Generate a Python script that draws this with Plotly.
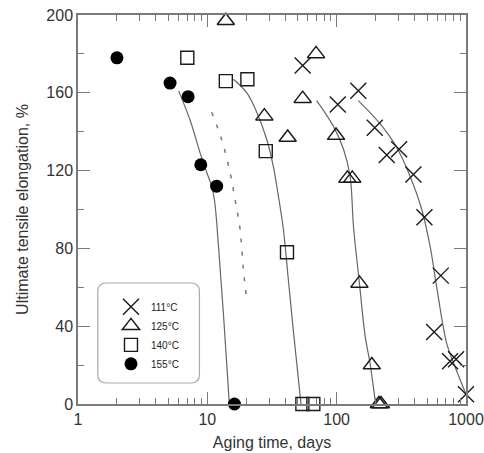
import plotly.graph_objects as go

# ---- measured data ----
t111 = [54.6, 102, 147, 197, 244, 304, 392, 477, 567, 638, 753, 838, 1000]
e111 = [174, 154, 161, 142, 128, 131, 118, 96, 37, 66, 22, 23, 5]

t125 = [13.9, 27.6, 41.8, 54.6, 69.3, 98.9, 121, 132, 150, 187, 212, 220]
e125 = [197, 148, 137, 157, 180, 138, 116, 116, 62, 20, 0, 0]

t140 = [7.0, 13.9, 20.4, 28.3, 41.3, 54.3, 66]
e140 = [178, 166, 167, 130, 78, 0, 0]

t155 = [2.0, 5.15, 7.1, 8.9, 11.8, 16.2]
e155 = [178, 165, 158, 123, 112, 0]

# fitted curves
ct111 = [147, 217, 291, 370, 455, 528, 594, 710, 824, 1000]
ce111 = [156, 144, 132, 117, 100, 81, 60, 31, 19, 5]
ct125 = [70, 94, 113, 127, 135, 150, 166, 181, 200]
ce125 = [156, 143, 131, 117, 91, 62, 35, 21, 0]
ct140 = [15.9, 20.2, 24.1, 28.8, 32.4, 35.4, 38.7, 42.3, 46.2, 53.0]
ce140 = [167, 160, 150, 136, 122, 107, 90, 64, 38, 0]
ct155 = [6.0, 7.35, 8.8, 9.9, 10.8, 11.4, 12.2, 13.3, 14.8]
ce155 = [161, 146, 129, 119, 112, 104, 81, 47, 0]
# dotted curve
dt = [10.8, 12.9, 15.0, 16.4, 17.9, 19.0, 20.2]
de = [150, 136, 119, 105, 90, 69, 53]

labels = ["111°C", "125°C", "140°C", "155°C"]
x_major = [1, 10, 100, 1000]
x_minor = [m * d for d in (1, 10, 100) for m in range(2, 10)]

FONT = "Liberation Sans, Arial, sans-serif"
MK = "#1a1a1a"
CURVE = "#666666"
AX = "#7a7a7a"

fig = go.Figure()

for ct, ce in [(ct111, ce111), (ct125, ce125), (ct140, ce140), (ct155, ce155)]:
    fig.add_trace(go.Scatter(x=ct, y=ce, mode="lines", line=dict(color=CURVE, width=1.2, shape="spline"),
                             showlegend=False, hoverinfo="skip", cliponaxis=False))
fig.add_trace(go.Scatter(x=dt, y=de, mode="lines",
                         line=dict(color="#777777", width=1.5, dash="4px,9px", shape="spline"),
                         showlegend=False, hoverinfo="skip"))

fig.add_trace(go.Scatter(x=t111, y=e111, mode="markers", name=labels[0], cliponaxis=False,
                         marker=dict(symbol="x-thin-open", size=16, line=dict(color=MK, width=1.4), color=MK)))
fig.add_trace(go.Scatter(x=t125, y=e125, mode="markers", name=labels[1], cliponaxis=False,
                         marker=dict(symbol="triangle-up-open", size=15, line=dict(color=MK, width=1.5), color=MK)))
fig.add_trace(go.Scatter(x=t140, y=e140, mode="markers", name=labels[2], cliponaxis=False,
                         marker=dict(symbol="square-open", size=13, line=dict(color=MK, width=1.4), color=MK)))
fig.add_trace(go.Scatter(x=t155, y=e155, mode="markers", name=labels[3], cliponaxis=False,
                         marker=dict(symbol="circle", size=13, color="#000000", line=dict(width=0))))

# rounded legend box
x0, x1, y0, y1 = 0.051, 0.313, 0.054, 0.311
rx, ry = 0.022, 0.022
path = (f"M {x0+rx},{y0} L {x1-rx},{y0} Q {x1},{y0} {x1},{y0+ry} L {x1},{y1-ry} Q {x1},{y1} {x1-rx},{y1} "
        f"L {x0+rx},{y1} Q {x0},{y1} {x0},{y1-ry} L {x0},{y0+ry} Q {x0},{y0} {x0+rx},{y0} Z")
fig.add_shape(type="path", path=path, xref="paper", yref="paper",
              line=dict(color="#aaaaaa", width=1.2), fillcolor="rgba(255,255,255,0)", layer="above")

axis_common = dict(showline=True, linecolor=AX, linewidth=1.5, mirror="ticks", automargin=False,
                   ticks="inside", tickcolor=AX, tickwidth=1.3, showgrid=False, zeroline=False,
                   ticklabeloverflow="allow",
                   tickfont=dict(family=FONT, size=16, color="#333333"))

fig.update_xaxes(type="log", range=[0, 3], tickmode="array", tickvals=x_major,
                 ticktext=[str(v) for v in x_major], ticklen=12,
                 minor=dict(ticks="inside", ticklen=6, tickmode="array", tickvals=x_minor,
                            tickcolor=AX, tickwidth=1.3, showgrid=False),
                 title=dict(text="Aging time, days", font=dict(family=FONT, size=16, color="#333333"), standoff=10),
                 **axis_common)
fig.update_yaxes(range=[0, 200], tickmode="linear", tick0=0, dtick=40, ticklen=12,
                 minor=dict(ticks="inside", ticklen=6, tickmode="linear", tick0=0, dtick=20,
                            tickcolor=AX, tickwidth=1.3, showgrid=False),
                 title=dict(text="Ultimate tensile elongation, %", font=dict(family=FONT, size=16, color="#333333"), standoff=14),
                 **axis_common)

fig.update_layout(
    width=484, height=453,
    margin=dict(l=78, r=18, t=15, b=49, autoexpand=False),
    paper_bgcolor="white", plot_bgcolor="white",
    font=dict(family=FONT, color="#333333"),
    legend=dict(x=0.085, y=0.287, xanchor="left", yanchor="top", bgcolor="rgba(0,0,0,0)",
                borderwidth=0, font=dict(family=FONT, size=10, color="#222222"),
                tracegroupgap=0, itemsizing="trace"),
)

# remove the default page margin so the figure fills the window exactly
fig.write_html("out.html", config={"displayModeBar": False},
               post_script="document.body.style.margin='0px';document.body.style.overflow='hidden';")
